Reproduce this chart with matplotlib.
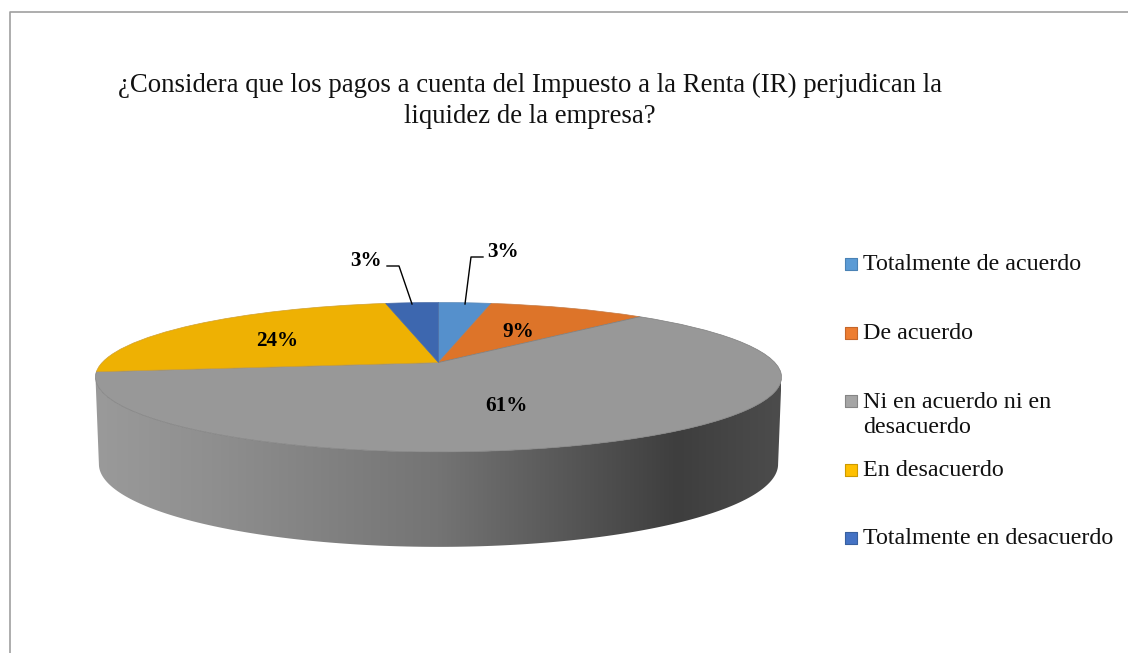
import numpy as np
import matplotlib
matplotlib.use('Agg')
import matplotlib.pyplot as plt
from matplotlib.colors import LinearSegmentedColormap
from matplotlib.patches import Polygon
from matplotlib.transforms import Transform

### DATA
categories = ['Totalmente de acuerdo', 'De acuerdo', 'Ni en acuerdo ni en\ndesacuerdo',
              'En desacuerdo', 'Totalmente en desacuerdo']
values = [3, 9, 61, 24, 3]
value_labels = ['3%', '9%', '61%', '24%', '3%']
title = ('¿Considera que los pagos a cuenta del Impuesto a la Renta (IR) perjudican la\n'
         'liquidez de la empresa?')

### STYLE
top_colors = ['#5590CC', '#DD7429', '#989898', '#EEB103', '#3D67AF']
edge_colors = ['#5D8AB8', '#C47A45', '#7E7E7E', '#D0A030', '#4A6CA6']
legend_colors = ['#5B9BD5', '#ED7D31', '#A5A5A5', '#FFC000', '#4472C4']
legend_edges = ['#4A82B5', '#C5662A', '#858585', '#CC9A00', '#38609F']
label_pos = [(503, 252), (518, 332), (506, 406), (277, 341), (366, 261)]
legend_y = [264, 332.5, 401, 469.5, 538]
leader_x = [[483, 471, 465], [387, 399, 412]]
leader_y = [[257, 257, 304], [266, 266, 304]]

### Pie geometry (pixels) - perspective view of the disc
cx, cy = 438.5, 362.5
A, B, k = 336.3, 71.8, 0.197


class DiskView(Transform):
    input_dims = 2
    output_dims = 2

    def transform_non_affine(self, xy):
        xy = np.asarray(xy)
        w = 1 + k*xy[:, 1]
        return np.column_stack([cx + A*xy[:, 0]/w, cy - B*xy[:, 1]/w])


fig = plt.figure(figsize=(11.28, 6.53), dpi=100)
ax = fig.add_axes([0, 0, 1, 1])

wedges, _ = ax.pie(values, colors=top_colors, startangle=90, counterclock=False,
                   wedgeprops={'linewidth': 0.5})
view = DiskView()
for w, ec in zip(wedges, edge_colors):
    w.set_transform(w.get_patch_transform() + view + ax.transData)
    w.set_edgecolor(ec)
    w.set_zorder(3)

ax.set_aspect('auto')
ax.set_xlim(0, 1128)
ax.set_ylim(653, 0)
ax.axis('off')

### Side wall of the disc, with horizontal shading
t = np.radians(np.linspace(191.4, 348.6, 200))
rim = view.transform_non_affine(np.column_stack([np.cos(t), np.sin(t)]))
bottom = np.column_stack([cx + (rim[:, 0] - cx)*0.99, cy + 85.3 + (rim[:, 1] - cy)*1.108])
wall = Polygon(np.vstack([rim, bottom[::-1]]), closed=True, facecolor='none', edgecolor='none',
               transform=ax.transData)
ax.add_patch(wall)
shade = LinearSegmentedColormap.from_list('wall', [
    (0.0, '#9A9A9A'), (0.17, '#8F8F8F'), (0.50, '#747474'),
    (0.80, '#464646'), (0.85, '#3E3E3E'), (1.0, '#4C4C4C')])
im = ax.imshow(np.linspace(0, 1, 256)[None, :], cmap=shade, extent=(95, 781, 560, 360),
               aspect='auto', zorder=2, interpolation='bilinear')
im.set_clip_path(wall)
ax.set_xlim(0, 1128)
ax.set_ylim(653, 0)

### Chart frame (only left and top are visible)
ax.plot([10, 10, 1128], [653, 12, 12], color='#A0A0A0', lw=1.2, clip_on=False, zorder=1)

serif = 'Liberation Serif'
ax.text(530, 101, title, family=serif, fontsize=19.3, color='#111111', ha='center', va='center',
        linespacing=1.3)

for lab, (x, y) in zip(value_labels, label_pos):
    ax.text(x, y, lab, family=serif, fontsize=15.2, fontweight='bold', color='black',
            ha='center', va='center', zorder=5)

for xs, ys in zip(leader_x, leader_y):
    ax.plot(xs, ys, color='black', lw=1.0, zorder=5)

### Legend - spacing is even from first line to first line
for cat, y, c, ec in zip(categories, legend_y, legend_colors, legend_edges):
    ax.scatter([851], [y], s=72, marker='s', color=c, edgecolor=ec, linewidth=0.8, zorder=5)
    ax.text(863, y - 9.5, cat, family=serif, fontsize=17.3, color='#111111', ha='left', va='top',
            linespacing=1.3)

fig.savefig('out.png', dpi=100)
